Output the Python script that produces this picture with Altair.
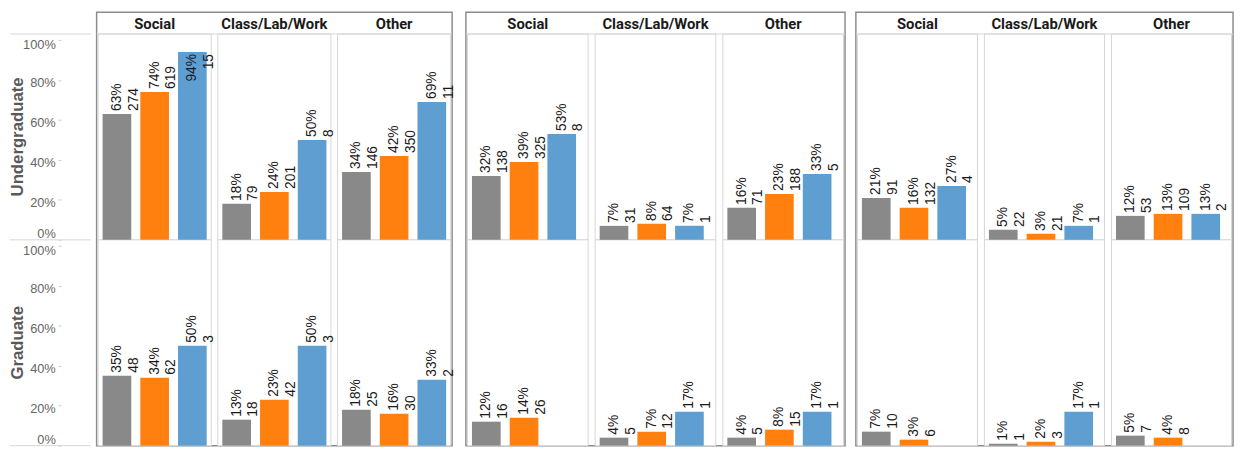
import altair as alt
import pandas as pd

# ---------------- data ----------------
categories = ["Social", "Class/Lab/Work", "Other"]
levels = ["Undergraduate", "Graduate"]
series = ["Series 1", "Series 2", "Series 3"]
series_colors = ["#898989", "#FF800E", "#5F9ED1"]

# rows = categories (Social, Class/Lab/Work, Other); columns = series (gray, orange, blue)
p1_undergrad = [[63, 74, 94], [18, 24, 50], [34, 42, 69]]
n1_undergrad = [[274, 619, 15], [79, 201, 8], [146, 350, 11]]
p1_grad = [[35, 34, 50], [13, 23, 50], [18, 16, 33]]
n1_grad = [[48, 62, 3], [18, 42, 3], [25, 30, 2]]

p2_undergrad = [[32, 39, 53], [7, 8, 7], [16, 23, 33]]
n2_undergrad = [[138, 325, 8], [31, 64, 1], [71, 188, 5]]
p2_grad = [[12, 14, None], [4, 7, 17], [4, 8, 17]]
n2_grad = [[16, 26, None], [5, 12, 1], [5, 15, 1]]

p3_undergrad = [[21, 16, 27], [5, 3, 7], [12, 13, 13]]
n3_undergrad = [[91, 132, 4], [22, 21, 1], [53, 109, 2]]
p3_grad = [[7, 3, None], [1, 2, 17], [5, 4, None]]
n3_grad = [[10, 6, None], [1, 3, 1], [7, 8, None]]

axis_ticks = [0, 20, 40, 60, 80, 100]

# ---------------- layout constants ----------------
CELL = 103.0            # y-units per row cell (percent scale 0..103)
CELL_PX = 209
HEADER_PX = 22
H = 2 * CELL_PX + HEADER_PX
TOTAL = 2 * CELL + HEADER_PX * CELL / CELL_PX
base = {"Undergraduate": CELL, "Graduate": 0.0}

LABEL_FONT = "Liberation Sans"


def panel_df(p_ug, n_ug, p_g, n_g):
    rows = []
    for lvl, P, N in (("Undergraduate", p_ug, n_ug), ("Graduate", p_g, n_g)):
        for ci, cat in enumerate(categories):
            for si, s in enumerate(series):
                p = P[ci][si]
                if p is None:
                    continue
                rows.append(dict(level=lvl, category=cat, series=s, pct=p,
                                 n=N[ci][si], y0=base[lvl], y1=base[lvl] + p,
                                 label=f"{p}%\n{N[ci][si]}"))
    return pd.DataFrame(rows)


cells_df = pd.DataFrame([dict(category=c, level=l, y0=base[l], y1=base[l] + CELL)
                         for l in levels for c in categories])
header_df = pd.DataFrame({"category": categories})
hline_df = pd.DataFrame({"y": [2 * CELL]})
rowtitle_df = pd.DataFrame({"level": levels, "y": [base[l] + CELL / 2 for l in levels]})
leftrule_df = pd.DataFrame({"y": [0.0, CELL, 2 * CELL]})

yscale = alt.Scale(domain=[0, TOTAL], nice=False, zero=False)
xscale = alt.Scale(domain=categories, paddingInner=0.055, paddingOuter=0.012)
color = alt.Color("series:N", scale=alt.Scale(domain=series, range=series_colors), legend=None)


def xoff():
    return alt.XOffset("series:N", scale=alt.Scale(domain=series, paddingInner=0.24, paddingOuter=0.12))


def make_panel(df, width, show_axis):
    X = alt.X("category:N", scale=xscale, axis=None)
    if show_axis:
        vals = axis_ticks + [v + CELL for v in axis_ticks]
        yaxis = alt.Axis(
            values=vals,
            labelExpr=f"(datum.value >= {CELL} ? datum.value - {CELL} : datum.value) + '%'",
            title=None, grid=False, domain=False, ticks=True, tickColor="#cccccc",
            tickSize=3, labelPadding=3, offset=36, labelColor="#666666",
            labelFont=LABEL_FONT, labelFontSize=13, labelBaseline="middle",
            labelOffset={"condition": [
                {"test": f"datum.value == 0 || datum.value == {CELL}", "value": -6},
                {"test": f"datum.value == 100 || datum.value == {100 + CELL}", "value": 5}],
                "value": 2.5},
        )
    else:
        yaxis = None

    def Y(field):
        return alt.Y(field, scale=yscale, axis=yaxis)

    cells = alt.Chart(cells_df).mark_rect(fill="white", stroke="#d6d6d6", strokeWidth=1).encode(
        x=X, y=Y("y0:Q"), y2="y1:Q")
    hline = alt.Chart(hline_df).mark_rule(color="#d6d6d6", strokeWidth=1).encode(
        x=alt.value(0), x2=alt.value(width), y=Y("y:Q"))
    header = alt.Chart(header_df).mark_text(
        font="Roboto", fontWeight="bold", fontSize=15, color="#1a1a1a", baseline="middle"
    ).encode(x=X, y=alt.value(HEADER_PX / 2 + 0.5), text="category:N")
    bars = alt.Chart(df).mark_bar().encode(
        x=X, xOffset=xoff(), y=Y("y0:Q"), y2="y1:Q", color=color)
    lab_out = alt.Chart(df).transform_filter("datum.pct <= 90").mark_text(
        angle=270, align="left", baseline="middle", dx=3, lineBreak="\n", lineHeight=17,
        font=LABEL_FONT, fontSize=14, color="#1a1a1a"
    ).encode(x=X, xOffset=xoff(), y=Y("y1:Q"), text="label:N")
    lab_in = alt.Chart(df).transform_filter("datum.pct > 90").mark_text(
        angle=270, align="right", baseline="middle", dx=-2, lineBreak="\n", lineHeight=17,
        font=LABEL_FONT, fontSize=14, color="#1a1a1a"
    ).encode(x=X, xOffset=xoff(), y=Y("y1:Q"), text="label:N")

    layers = [cells, hline, header, bars, lab_out, lab_in]
    if show_axis:
        rowt = alt.Chart(rowtitle_df).mark_text(
            angle=270, align="center", baseline="middle", font=LABEL_FONT, fontWeight="bold",
            fontSize=17, color="#595959"
        ).encode(x=alt.value(-80), y=Y("y:Q"), text="level:N")
        lrules = alt.Chart(leftrule_df).mark_rule(color="#d6d6d6", strokeWidth=1).encode(
            x=alt.value(-88), x2=alt.value(-6), y=Y("y:Q"))
        layers = [lrules] + layers + [rowt]
    return alt.layer(*layers).properties(width=width, height=H)


g1 = make_panel(panel_df(p1_undergrad, n1_undergrad, p1_grad, n1_grad), 361, True)
g2 = make_panel(panel_df(p2_undergrad, n2_undergrad, p2_grad, n2_grad), 385, False)
g3 = make_panel(panel_df(p3_undergrad, n3_undergrad, p3_grad, n3_grad), 383, False)

chart = alt.hconcat(g1, g2, g3, spacing=7).properties(padding=0, background="white").configure_view(
    stroke="#8c8c8c", strokeWidth=1.5)

chart.save("out.html", embed_options={"renderer": "svg", "actions": False})
